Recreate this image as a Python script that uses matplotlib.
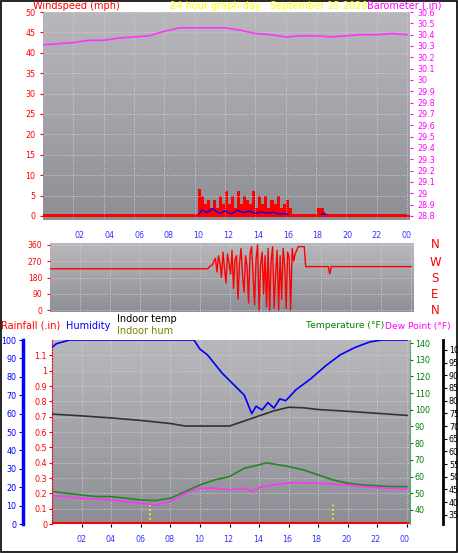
import numpy as np
import matplotlib
matplotlib.use("Agg")
import matplotlib.pyplot as plt

# === data ===
xtick_hours = [2, 4, 6, 8, 10, 12, 14, 16, 18, 20, 22, 24]
xtick_labels = ["02", "04", "06", "08", "10", "12", "14", "16", "18", "20", "22", "00"]

baro_hours = [0, 1, 2, 3, 4, 5, 6, 7, 8, 9, 10, 11, 12, 13, 14, 15, 16, 17, 18, 19, 20, 21, 22, 23, 24]
baro_vals = [30.31, 30.32, 30.33, 30.35, 30.35, 30.37, 30.38, 30.39, 30.43, 30.46, 30.46, 30.46, 30.46,
             30.44, 30.41, 30.40, 30.38, 30.39, 30.39, 30.38, 30.39, 30.40, 30.40, 30.41, 30.40]

gust_hours = [0, 10.1, 10.2, 10.4, 10.6, 10.8, 11.0, 11.2, 11.4, 11.6, 11.8, 12.0, 12.2, 12.4, 12.6,
              12.8, 13.0, 13.2, 13.4, 13.6, 13.8, 14.0, 14.2, 14.4, 14.6, 14.8, 15.0, 15.2, 15.4,
              15.6, 15.8, 16.0, 16.2, 16.4, 18.0, 18.1, 18.3, 18.5, 18.6, 24]
gust_vals = [0.5, 0.5, 6.5, 5, 3, 4, 2, 4, 2, 5, 3, 6, 3, 5, 2, 6, 3, 5, 4, 3, 6, 2, 5, 3, 5, 2,
             4, 3, 5, 2, 3, 4, 2, 0.5, 0.5, 2, 2, 1, 0.5, 0.5]
avg_hours = [0, 10.2, 10.5, 10.8, 11.2, 11.6, 12.0, 12.4, 12.8, 13.2, 13.6, 14.0, 14.4, 14.8,
             15.2, 15.6, 16.0, 16.3, 18.2, 18.5, 18.8, 24]
avg_vals = [0, 0, 1.5, 0.8, 1.8, 0.6, 1.2, 0.5, 1.4, 0.8, 1.2, 0.6, 1.0, 0.7, 0.9, 0.4, 0.6, 0,
            0, 0.6, 0, 0]

dir_hours = [0, 10.5, 10.6, 10.8, 10.9, 11.0, 11.1, 11.2, 11.3, 11.4, 11.5, 11.6, 11.7, 11.8, 11.9,
             12.0, 12.1, 12.2, 12.3, 12.4, 12.5, 12.6, 12.7, 12.8, 12.9, 13.0, 13.1, 13.2, 13.3,
             13.4, 13.5, 13.6, 13.7, 13.8, 13.9, 14.0, 14.1, 14.2, 14.3, 14.4, 14.5, 14.6, 14.7,
             14.8, 14.9, 15.0, 15.1, 15.2, 15.3, 15.4, 15.5, 15.6, 15.7, 15.8, 15.9, 16.0, 16.1,
             16.2, 16.3, 16.5, 16.9, 17.0, 18.5, 18.6, 18.7, 18.8, 24]
dir_vals = [228, 228, 240, 250, 270, 285, 210, 300, 260, 180, 320, 230, 150, 310, 260, 200, 330,
            120, 280, 300, 60, 260, 340, 190, 100, 300, 240, 40, 310, 350, 200, 30, 280, 360, 0,
            250, 320, 90, 300, 20, 340, 0, 270, 350, 10, 200, 330, 0, 300, 60, 340, 250, 10, 320,
            290, 0, 340, 270, 310, 350, 350, 240, 240, 200, 240, 240, 240]

temp_hours = [0, 1, 2, 3, 4, 5, 6, 7, 8, 9, 10, 11, 12, 13, 14, 14.5, 15, 16, 17, 18, 19, 20, 21, 22, 23, 24]
temp_vals = [51, 50, 49, 48, 48, 47, 46, 45.6, 47, 51, 55, 58, 60, 65, 67, 68.3, 67.5, 66, 64, 61, 58,
             56, 55, 54.5, 54, 54]
dew_hours = [0, 1, 2, 3, 4, 5, 6, 7, 8, 9, 10, 11, 12, 13, 13.5, 14, 15, 16, 17, 18, 19, 20, 21, 22, 23, 24]
dew_vals = [48.6, 48, 47, 46.5, 46, 45, 44, 43, 45, 50, 53, 53, 52, 53, 51, 53.5, 55, 56.3, 56.3, 56,
            55.5, 55, 54, 53.3, 53, 52.5]
indoor_hours = [0, 2, 4, 6, 8, 9, 10, 11, 12, 13, 14, 15, 16, 17, 18, 20, 22, 24]
indoor_vals = [74.7, 74, 73.2, 72.2, 71, 70, 70, 70, 70, 72, 74, 76, 77.4, 77.2, 76.5, 75.8, 75, 74.2]
hum_hours = [0, 0.3, 1.2, 9.6, 10.0, 10.5, 11.0, 11.5, 12.0, 12.5, 13.0, 13.3, 13.5, 13.8, 14.2,
             14.6, 15.0, 15.4, 15.8, 16.5, 17.5, 18.5, 19.5, 20.5, 21.5, 22.3, 24]
hum_vals = [96, 98, 100, 100, 95, 92, 87, 82, 78, 74, 70, 64, 60, 64, 62, 66, 63, 68, 67, 73, 79,
            86, 92, 96, 99, 100, 100]
rain_hours = [0, 24]
rain_vals = [0, 0]
sun_hours = [6.6, 19.0]

W, H = 458, 553
fig = plt.figure(figsize=(W / 100, H / 100), dpi=100)
fig.patch.set_facecolor("white")
fig.add_artist(plt.Rectangle((0.002, 0.002), 0.996, 0.996, transform=fig.transFigure,
                             fill=False, ec="black", lw=1.2))
plt.rcParams["font.family"] = ["DejaVu Sans"]
FS = 5.8
HF = 7


def box(x0, y0, x1, y1):
    return [x0 / W, 1 - y1 / H, (x1 - x0) / W, (y1 - y0) / H]


def style(ax):
    grad = np.linspace(0, 1, 100).reshape(-1, 1)
    ax.imshow(grad, cmap=matplotlib.colors.LinearSegmentedColormap.from_list(
        "g", ["#b8b8bc", "#8e8e96"]), aspect="auto", extent=(0, 1, 0, 1),
        transform=ax.transAxes, zorder=0)
    ax.grid(True, color="#d0d0d4", ls=":", lw=0.7)
    ax.set_xlim(0, 24.2)
    ax.set_xticks(xtick_hours)
    for s in ax.spines.values():
        s.set_visible(False)


# === windspeed / barometer ===
ax1 = fig.add_axes(box(43, 12, 410, 220))
style(ax1)
ax1.set_ylim(-1, 50)
ax1.set_yticks(range(0, 51, 5))
ax1.tick_params(axis="y", colors="red", labelsize=FS, length=2)
ax1.tick_params(axis="x", labelbottom=False, length=0)
ax1.fill_between(gust_hours, gust_vals, step="post", color="red", lw=0)
ax1.plot(avg_hours, avg_vals, color="blue", lw=1)
ax1.axhline(0, color="red", lw=1.5)
ax1b = ax1.twinx()
ax1b.set_ylim(28.8 - 0.036, 30.6)
ax1b.set_yticks(np.round(np.arange(28.8, 30.61, 0.1), 1))
ax1b.set_yticklabels([f"{v:g}" for v in np.arange(28.8, 30.61, 0.1).round(1)])
ax1b.tick_params(colors="magenta", labelsize=FS, length=2)
for s in ax1b.spines.values():
    s.set_visible(False)
ax1b.plot(baro_hours, baro_vals, color="#ff33ff", lw=1.2)
for h, l in zip(xtick_hours, xtick_labels):
    fig.text((50 + h * 14.86) / W, 1 - 236 / H, l, color="#3333ff", fontsize=FS, ha="center", va="center")

# === wind direction ===
ax2 = fig.add_axes(box(50, 243, 414, 312))
style(ax2)
ax2.set_ylim(-10, 370)
ax2.set_yticks([0, 90, 180, 270, 360])
ax2.tick_params(axis="y", colors="red", labelsize=FS - 0.3, length=2)
ax2.tick_params(axis="x", labelbottom=False, length=0)
ax2.plot(dir_hours, dir_vals, color="red", lw=1)
for lab, yv in zip("NWSEN", [245, 262, 278, 295, 311]):
    fig.text(435 / W, 1 - yv / H, lab, color="red", fontsize=8.5, ha="center", va="center")

# === temperature / humidity ===
ax3 = fig.add_axes(box(52, 340, 410, 524))
style(ax3)
ax3.set_ylim(0, 1.2)
ax3.set_yticks(np.round(np.arange(0, 1.11, 0.1), 1))
ax3.set_yticklabels([f"{v:g}" for v in np.arange(0, 1.11, 0.1).round(1)])
ax3.tick_params(axis="y", colors="red", labelsize=FS, length=2, pad=1.5)
ax3.spines["left"].set_visible(True)
ax3.spines["left"].set_color("red")
ax3.spines["left"].set_linestyle(":")
ax3.tick_params(axis="x", labelbottom=False, length=2)
ax3.plot(rain_hours, rain_vals, color="red", lw=3, zorder=5)
ax3.vlines(sun_hours, 0, 0.14, colors="yellow", linestyles=":", lw=1.2, zorder=4)

axh = ax3.twinx()
axh.set_ylim(0, 100)
axh.yaxis.set_ticks_position("left")
axh.spines["left"].set_position(("outward", 21))
axh.spines["left"].set_visible(True)
axh.spines["left"].set_color("blue")
axh.spines["left"].set_linewidth(2.5)
for k in ["right", "top", "bottom"]:
    axh.spines[k].set_visible(False)
axh.set_yticks(range(0, 101, 10))
axh.tick_params(colors="blue", labelsize=FS, length=3, pad=1.5)
axh.plot(hum_hours, hum_vals, color="blue", lw=1.2)

axt = ax3.twinx()
axt.set_ylim(31.6, 141.8)
axt.set_yticks(range(40, 141, 10))
axt.spines["right"].set_visible(True)
axt.spines["right"].set_color("#44aa44")
axt.spines["right"].set_linestyle(":")
for k in ["left", "top", "bottom"]:
    axt.spines[k].set_visible(False)
axt.tick_params(colors="green", labelsize=FS, length=2, pad=1.5)
axt.plot(temp_hours, temp_vals, color="#228822", lw=1.2)
axt.plot(dew_hours, dew_vals, color="#ff33ff", lw=1.2)

axi = ax3.twinx()
axi.set_ylim(31.4, 103.9)
axi.set_yticks(range(35, 101, 5))
axi.spines["right"].set_position(("outward", 24))
axi.spines["right"].set_visible(True)
axi.spines["right"].set_color("black")
axi.spines["right"].set_linewidth(2)
for k in ["left", "top", "bottom"]:
    axi.spines[k].set_visible(False)
axi.tick_params(colors="black", labelsize=FS, length=3, pad=1)
axi.plot(indoor_hours, indoor_vals, color="#333333", lw=1.2)

for h, l in zip(xtick_hours, xtick_labels):
    fig.text((52 + h * 14.7) / W, 1 - 540 / H, l, color="#3333ff", fontsize=FS, ha="center", va="center")

# === header texts ===
fig.text(33 / W, 1 - 6 / H, "Windspeed (mph)", color="red", fontsize=HF, va="center")
fig.text(170 / W, 1 - 6 / H, "24 hour graph day : September 15 2026", color="yellow", fontsize=HF, va="center")
fig.text(367 / W, 1 - 6 / H, "Barometer (.in)", color="magenta", fontsize=HF, va="center")
fig.text(1 / W, 1 - 326 / H, "Rainfall (.in)", color="red", fontsize=HF, va="center")
fig.text(66 / W, 1 - 326 / H, "Humidity", color="blue", fontsize=HF, va="center")
fig.text(117 / W, 1 - 319 / H, "Indoor temp", color="black", fontsize=HF, va="center")
fig.text(117 / W, 1 - 331 / H, "Indoor hum", color="olive", fontsize=HF, va="center")
fig.text(384 / W, 1 - 326 / H, "Temperature (°F)", color="green", fontsize=6.6, va="center", ha="right")
fig.text(385 / W, 1 - 326 / H, "Dew Point (°F)", color="magenta", fontsize=6.6, va="center")

fig.savefig("out.png", dpi=100)
